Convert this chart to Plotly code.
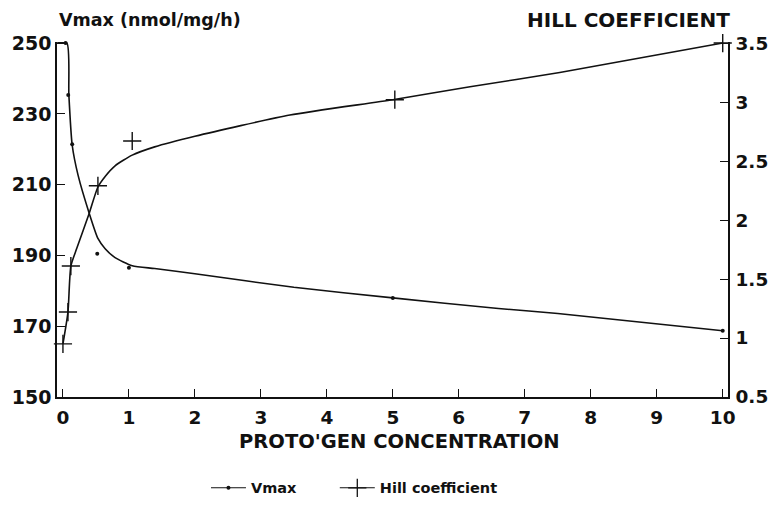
import plotly.graph_objects as go

# ---- data ----
x_ticks = [0, 1, 2, 3, 4, 5, 6, 7, 8, 9, 10]
vmax_ticks = [150, 170, 190, 210, 230, 250]
hill_ticks = [0.5, 1, 1.5, 2, 2.5, 3, 3.5]
hill_tick_text = ["0.5", "1", "1.5", "2", "2.5", "3", "3.5"]

# measured points
vmax_x = [0.04, 0.08, 0.14, 0.52, 1.0, 5.0, 10.0]
vmax_y = [250.0, 235.3, 221.4, 190.5, 186.5, 178.0, 168.7]
hill_x = [0.0, 0.076, 0.12, 0.53, 1.05, 5.03, 10.0]
hill_y = [0.95, 1.22, 1.61, 2.29, 2.67, 3.02, 3.5]

# fitted curves
vmax_curve_x = [-0.09, 0.06, 0.09, 0.14, 0.23, 0.40, 0.53, 0.64, 0.79, 1.05, 1.39, 2.0, 3.5, 5.0, 6.6, 7.5, 10.0]
vmax_curve_y = [250.0, 250.0, 235.3, 221.2, 212.6, 201.8, 194.8, 191.9, 189.4, 187.1, 186.3, 184.8, 181.0, 178.0, 175.0, 173.6, 168.7]
hill_curve_x = [0.0, 0.076, 0.12, 0.21, 0.40, 0.53, 0.64, 0.79, 1.05, 1.39, 2.0, 3.44, 5.0, 6.17, 7.53, 10.0]
hill_curve_y = [0.95, 1.22, 1.61, 1.76, 2.06, 2.28, 2.37, 2.46, 2.55, 2.62, 2.71, 2.89, 3.02, 3.13, 3.25, 3.5]

FONT = "DejaVu Sans"
BLACK = "#111111"

fig = go.Figure()

fig.add_trace(go.Scatter(x=vmax_curve_x, y=vmax_curve_y, mode="lines",
                         line=dict(color=BLACK, width=1.6, shape="spline", smoothing=0.6),
                         showlegend=False, yaxis="y"))
fig.add_trace(go.Scatter(x=vmax_x, y=vmax_y, mode="markers",
                         marker=dict(symbol="circle", size=4, color=BLACK),
                         showlegend=False, cliponaxis=False, yaxis="y"))
fig.add_trace(go.Scatter(x=hill_curve_x, y=hill_curve_y, mode="lines",
                         line=dict(color=BLACK, width=1.6, shape="spline", smoothing=0.6),
                         showlegend=False, yaxis="y2"))
fig.add_trace(go.Scatter(x=hill_x, y=hill_y, mode="markers",
                         marker=dict(symbol="cross-thin", size=13, color=BLACK,
                                     line=dict(color=BLACK, width=1.4)),
                         showlegend=False, cliponaxis=False, yaxis="y2"))

# legend entries (no data, legend only)
fig.add_trace(go.Scatter(x=[None], y=[None], mode="lines+markers", name="Vmax",
                         line=dict(color=BLACK, width=1.1),
                         marker=dict(symbol="circle", size=4, color=BLACK),
                         legend="legend"))
fig.add_trace(go.Scatter(x=[None], y=[None], mode="lines+markers", name="Hill coefficient",
                         line=dict(color=BLACK, width=1.1),
                         marker=dict(symbol="cross-thin", size=13, color=BLACK,
                                     line=dict(color=BLACK, width=1.3)),
                         legend="legend2"))

axis_common = dict(showgrid=False, zeroline=False, showline=True, linecolor=BLACK,
                   linewidth=1.6, ticks="inside", tickcolor=BLACK, tickwidth=1.4, ticklen=8,
                   automargin=False, ticklabeloverflow="allow")

tick_font = dict(family=FONT, size=19, color=BLACK, weight="bold")

legend_common = dict(orientation="h", y=-0.256, yanchor="middle",
                     font=dict(family=FONT, size=14.5, color=BLACK, weight="bold"),
                     itemwidth=35, bgcolor="rgba(0,0,0,0)", xanchor="left")

fig.update_layout(
    width=770, height=508,
    margin=dict(l=57, r=42, t=42, b=111, autoexpand=False),
    paper_bgcolor="white", plot_bgcolor="white",
    xaxis=dict(range=[-0.09, 10.08], tickvals=x_ticks, ticklabelstandoff=3,
               tickfont=dict(family=FONT, size=18.5, color=BLACK, weight="bold"),
               **axis_common),
    yaxis=dict(range=[150, 250.3], tickvals=vmax_ticks, ticklabelstandoff=0,
               tickfont=tick_font, **axis_common),
    yaxis2=dict(range=[0.5, 3.509], tickvals=hill_ticks, ticktext=hill_tick_text,
                overlaying="y", side="right", ticklabelstandoff=2,
                tickfont=dict(family=FONT, size=18.5, color=BLACK, weight="bold"),
                **axis_common),
    showlegend=True,
    legend=dict(x=0.222, **legend_common),
    legend2=dict(x=0.414, **legend_common),
    annotations=[
        dict(text="Vmax (nmol/mg/h)", xref="paper", yref="paper", x=0.0, y=1.062,
             xanchor="left", yanchor="middle", showarrow=False,
             font=dict(family=FONT, size=17.5, color=BLACK, weight="bold")),
        dict(text="HILL COEFFICIENT", xref="paper", yref="paper", x=1.006, y=1.062,
             xanchor="right", yanchor="middle", showarrow=False,
             font=dict(family=FONT, size=20, color=BLACK, weight="bold")),
        dict(text="PROTO'GEN CONCENTRATION", xref="paper", yref="paper", x=0.511, y=-0.126,
             xanchor="center", yanchor="middle", showarrow=False,
             font=dict(family=FONT, size=19.5, color=BLACK, weight="bold")),
    ],
)

fig.write_html("out.html", config={"displayModeBar": False},
               post_script="document.body.style.margin='0';document.body.style.padding='0';")
